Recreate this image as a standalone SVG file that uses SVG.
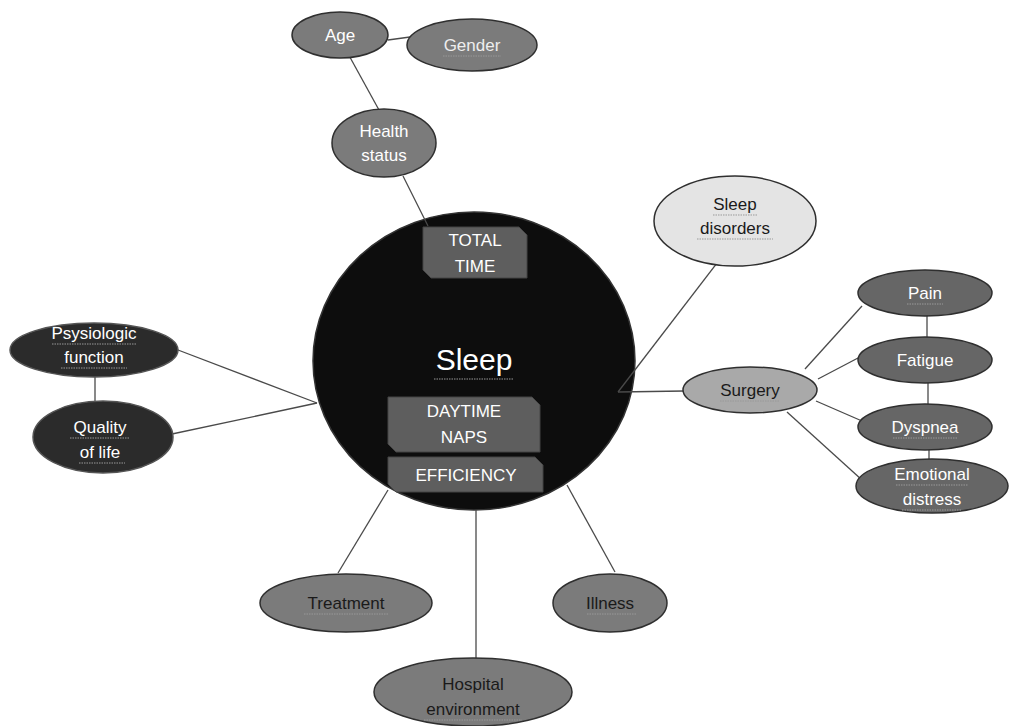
<svg xmlns="http://www.w3.org/2000/svg" width="1009" height="726" viewBox="0 0 1009 726">
<style>
text{font-family:"Liberation Sans","DejaVu Sans",sans-serif;font-size:17px;text-anchor:middle}
.w{fill:#ffffff}.d{fill:#1a1a1a}
.mid{fill:#7b7b7b;stroke:#2f2f2f;stroke-width:1.5}
.drk{fill:#666666;stroke:#2f2f2f;stroke-width:1.5}
.blk{fill:#2b2b2b;stroke:#555;stroke-width:1.5}
.lt{fill:#a9a9a9;stroke:#2f2f2f;stroke-width:1.5}
.vl{fill:#e4e4e4;stroke:#2f2f2f;stroke-width:1.5}
.box{fill:#5e5e5e;stroke:#444;stroke-width:1}
.sq{stroke:#999;stroke-width:1;stroke-dasharray:1.5 1;fill:none}
#connectors line{stroke:#4a4a4a;stroke-width:1.3}
</style>
<rect width="1009" height="726" fill="#ffffff"/>
<g id="sleep">
<ellipse cx="474" cy="361" rx="161" ry="149" fill="#0d0d0d" stroke="#333" stroke-width="1.5"/>
<text x="474" y="370" class="w" style="font-size:30px">Sleep</text>
<path class="sq" d="M434 379 H514"/>
</g>
<g id="connectors">
<line x1="388" y1="40" x2="410" y2="37"/>
<line x1="346" y1="50" x2="379" y2="110"/>
<line x1="403" y1="176" x2="428" y2="226"/>
<line x1="727" y1="250" x2="618" y2="392"/>
<line x1="618" y1="392" x2="684" y2="391"/>
<line x1="805" y1="369" x2="862" y2="306"/>
<line x1="818" y1="379" x2="858" y2="358"/>
<line x1="816" y1="401" x2="862" y2="421"/>
<line x1="787" y1="412" x2="862" y2="480"/>
<line x1="927" y1="315" x2="927" y2="337"/>
<line x1="928" y1="383" x2="928" y2="404"/>
<line x1="929" y1="450" x2="929" y2="462"/>
<line x1="95" y1="377" x2="95" y2="401"/>
<line x1="178" y1="350" x2="317" y2="403"/>
<line x1="172" y1="434" x2="317" y2="403"/>
<line x1="338" y1="573" x2="388" y2="490"/>
<line x1="476" y1="510" x2="476" y2="658"/>
<line x1="615" y1="572" x2="567" y2="485"/>
</g>
<g id="total-time">
<path class="box" d="M423 227 H519 L527 235 V278 H431 L423 270 Z"/>
<text x="475" y="246" class="w">TOTAL</text>
<text x="475" y="272" class="w">TIME</text>
</g>
<g id="daytime-naps">
<path class="box" d="M388 397 H532 L540 405 V452 H396 L388 444 Z"/>
<text x="464" y="417" class="w">DAYTIME</text>
<text x="464" y="443" class="w">NAPS</text>
</g>
<g id="efficiency">
<path class="box" d="M388 457 H535 L543 465 V492 H396 L388 484 Z"/>
<text x="466" y="481" class="w">EFFICIENCY</text>
</g>
<g id="age">
<ellipse class="mid" cx="340" cy="35" rx="48" ry="23"/>
<text x="340" y="41" class="w">Age</text>
</g>
<g id="gender">
<ellipse class="mid" cx="472" cy="45" rx="65" ry="26"/>
<text x="472" y="51" fill="#eeeeee">Gender</text>
<path class="sq" d="M443 56 H501"/>
</g>
<g id="health-status">
<ellipse class="mid" cx="384" cy="143" rx="52" ry="34"/>
<text x="384" y="137" class="w">Health</text>
<text x="384" y="161" class="w">status</text>
</g>
<g id="sleep-disorders">
<ellipse class="vl" cx="735" cy="221" rx="81" ry="45"/>
<text x="735" y="210" class="d">Sleep</text>
<text x="735" y="234" class="d">disorders</text>
<path class="sq" d="M713 215 H757 M697 239 H773"/>
</g>
<g id="surgery">
<ellipse class="lt" cx="750" cy="390" rx="67" ry="23"/>
<text x="750" y="396" class="d">Surgery</text>
<path class="sq" d="M720 401 H780"/>
</g>
<g id="pain">
<ellipse class="drk" cx="925" cy="293" rx="67" ry="23"/>
<text x="925" y="299" class="w">Pain</text>
<path class="sq" d="M907 304 H943"/>
</g>
<g id="fatigue">
<ellipse class="drk" cx="925" cy="360" rx="67" ry="23"/>
<text x="925" y="366" class="w">Fatigue</text>
</g>
<g id="dyspnea">
<ellipse class="drk" cx="925" cy="427" rx="67" ry="23"/>
<text x="925" y="433" class="w">Dyspnea</text>
<path class="sq" d="M893 438 H957"/>
</g>
<g id="emotional-distress">
<ellipse class="drk" cx="932" cy="486" rx="76" ry="27"/>
<text x="932" y="480" class="w">Emotional</text>
<text x="932" y="505" class="w">distress</text>
<path class="sq" d="M896 485 H968 M902 510 H962"/>
</g>
<g id="psysiologic-function">
<ellipse class="blk" cx="94" cy="350" rx="84" ry="27"/>
<text x="94" y="339" class="w">Psysiologic</text>
<text x="94" y="363" class="w">function</text>
<path class="sq" d="M52 344 H136 M61 368 H127"/>
</g>
<g id="quality-of-life">
<ellipse class="blk" cx="103" cy="437" rx="70" ry="36"/>
<text x="100" y="433" class="w">Quality</text>
<text x="100" y="458" class="w">of life</text>
<path class="sq" d="M70 438 H130 M79 463 H125"/>
</g>
<g id="treatment">
<ellipse class="mid" cx="346" cy="603" rx="86" ry="29"/>
<text x="346" y="609" class="d">Treatment</text>
<path class="sq" d="M304 614 H388"/>
</g>
<g id="illness">
<ellipse class="mid" cx="610" cy="603" rx="57" ry="29"/>
<text x="610" y="609" class="d">Illness</text>
<path class="sq" d="M587 614 H636"/>
</g>
<g id="hospital-environment">
<ellipse class="mid" cx="473" cy="692" rx="99" ry="34"/>
<text x="473" y="690" class="d">Hospital</text>
<text x="473" y="715" class="d">environment</text>
<path class="sq" d="M424 720 H522"/>
</g>
</svg>
